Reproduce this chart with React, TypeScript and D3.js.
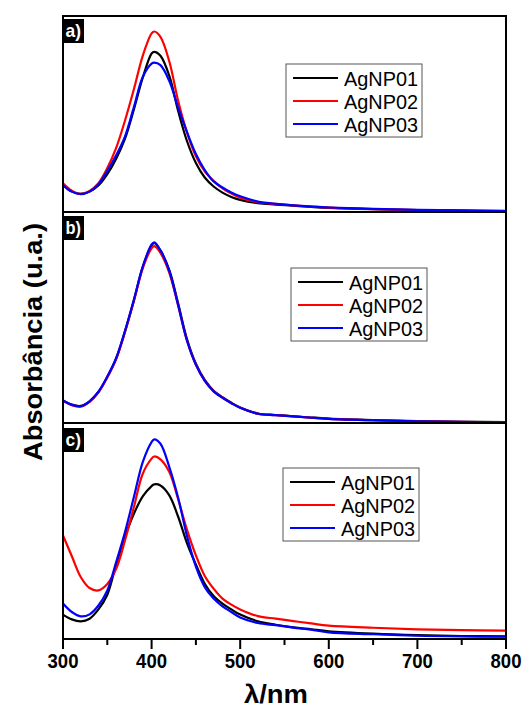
import React from 'react';
import * as d3 from 'd3';

const wavelengths = [300,310,320,330,340,350,360,370,380,390,400,403,410,420,430,440,450,460,470,480,490,500,520,540,560,580,600,650,700,750,800];
const seriesNames = ['AgNP01', 'AgNP02', 'AgNP03'];
const seriesColors = ['#000000', '#ff0000', '#0000ff'];
const panelLabels = ['a)', 'b)', 'c)'];
const xTicksMajor = [300, 400, 500, 600, 700, 800];
const xTicksMinor = [350, 450, 550, 650, 750];

const panelA_AgNP01 = [0.138,0.104,0.092,0.104,0.135,0.193,0.272,0.374,0.523,0.685,0.809,0.817,0.797,0.694,0.515,0.361,0.250,0.176,0.130,0.099,0.077,0.062,0.045,0.038,0.032,0.026,0.021,0.014,0.010,0.007,0.005];
const panelA_AgNP02 = [0.147,0.109,0.092,0.108,0.147,0.224,0.327,0.467,0.626,0.797,0.911,0.921,0.894,0.768,0.566,0.405,0.284,0.207,0.159,0.121,0.094,0.073,0.050,0.041,0.034,0.028,0.022,0.015,0.010,0.006,0.004];
const panelA_AgNP03 = [0.138,0.104,0.091,0.104,0.142,0.210,0.289,0.386,0.535,0.689,0.757,0.762,0.749,0.668,0.532,0.407,0.296,0.214,0.156,0.125,0.099,0.080,0.053,0.042,0.034,0.028,0.023,0.016,0.011,0.008,0.006];

const panelB_AgNP01 = [0.107,0.087,0.081,0.103,0.147,0.218,0.305,0.434,0.581,0.739,0.842,0.853,0.818,0.724,0.566,0.397,0.281,0.204,0.153,0.122,0.096,0.074,0.045,0.038,0.032,0.026,0.021,0.014,0.009,0.006,0.004];
const panelB_AgNP02 = [0.105,0.084,0.077,0.100,0.145,0.216,0.303,0.432,0.578,0.733,0.828,0.838,0.806,0.712,0.556,0.390,0.277,0.201,0.151,0.120,0.094,0.072,0.044,0.037,0.031,0.025,0.020,0.013,0.008,0.005,0.003];
const panelB_AgNP03 = [0.107,0.086,0.080,0.103,0.148,0.220,0.308,0.437,0.584,0.741,0.846,0.856,0.818,0.720,0.558,0.390,0.276,0.200,0.150,0.119,0.094,0.072,0.044,0.037,0.031,0.025,0.020,0.013,0.008,0.005,0.003];

const panelC_AgNP01 = [0.113,0.091,0.082,0.094,0.137,0.205,0.345,0.475,0.580,0.660,0.708,0.716,0.711,0.665,0.566,0.443,0.345,0.256,0.199,0.164,0.137,0.113,0.082,0.066,0.054,0.045,0.036,0.025,0.018,0.014,0.012];
const panelC_AgNP02 = [0.480,0.383,0.287,0.236,0.225,0.255,0.325,0.457,0.611,0.765,0.835,0.845,0.832,0.773,0.647,0.505,0.387,0.292,0.233,0.187,0.159,0.137,0.106,0.094,0.083,0.072,0.062,0.052,0.045,0.041,0.039];
const panelC_AgNP03 = [0.164,0.125,0.105,0.114,0.155,0.225,0.356,0.495,0.657,0.819,0.912,0.924,0.904,0.796,0.653,0.475,0.335,0.240,0.187,0.151,0.125,0.100,0.074,0.064,0.053,0.043,0.031,0.022,0.015,0.012,0.011];

const panelSeries = [
  [panelA_AgNP01, panelA_AgNP02, panelA_AgNP03],
  [panelB_AgNP01, panelB_AgNP02, panelB_AgNP03],
  [panelC_AgNP01, panelC_AgNP02, panelC_AgNP03],
];

const FONT = 'Liberation Sans, Arial, sans-serif';

export default function App() {
  const W = 524, H = 707;
  const left = 63, right = 506;
  const x = d3.scaleLinear().domain([300, 800]).range([left, right]);

  const layout = [
    { top: 16, bottom: 212, legend: { x: 286, y: 64 }, labelTop: 19 },
    { top: 212, bottom: 423, legend: { x: 291, y: 268 }, labelTop: 216 },
    { top: 423, bottom: 639, legend: { x: 283, y: 468 }, labelTop: 428 },
  ];

  const axisY = layout[2].bottom;

  return (
    <svg width={W} height={H} style={{ position: 'absolute', left: 0, top: 0, background: '#fff' }} fontFamily={FONT}>
      <rect x={0} y={0} width={W} height={H} fill="#fff" />
      <defs>
        {layout.map((p, i) => (
          <clipPath id={`clip${i}`} key={i}>
            <rect x={left} y={p.top} width={right - left} height={p.bottom - p.top} />
          </clipPath>
        ))}
      </defs>
      {layout.map((p, i) => {
        const y = d3.scaleLinear().domain([0, 1]).range([p.bottom, p.top]);
        const line = d3.line<[number, number]>()
          .x(d => x(d[0]))
          .y(d => y(d[1]))
          .curve(d3.curveCatmullRom.alpha(0.5));
        const lg = p.legend;
        return (
          <g key={i}>
            <g clipPath={`url(#clip${i})`}>
              {panelSeries[i].map((vals, s) => (
                <path
                  key={s}
                  d={line(wavelengths.map((w, k) => [w, vals[k]] as [number, number])) || ''}
                  fill="none"
                  stroke={seriesColors[s]}
                  strokeWidth={2.2}
                  strokeLinejoin="round"
                />
              ))}
            </g>
            <rect x={left} y={p.top} width={right - left} height={p.bottom - p.top} fill="none" stroke="#000" strokeWidth={2} />
            <rect x={left} y={p.labelTop} width={21} height={24} fill="#000" />
            <text x={left + 2.5} y={p.labelTop + 18} fill="#fff" fontSize={19} fontWeight="bold" textLength={15.5} lengthAdjust="spacingAndGlyphs">{panelLabels[i]}</text>
            <rect x={lg.x} y={lg.y} width={136} height={73} fill="#fff" stroke="#555" strokeWidth={1} />
            {seriesNames.map((n, s) => {
              const ry = lg.y + 14 + s * 23;
              return (
                <g key={n}>
                  <line x1={lg.x + 7} x2={lg.x + 52} y1={ry} y2={ry} stroke={seriesColors[s]} strokeWidth={2.2} />
                  <text x={lg.x + 58} y={ry + 7.5} fontSize={21} fill="#000" textLength={74} lengthAdjust="spacingAndGlyphs">{n}</text>
                </g>
              );
            })}
          </g>
        );
      })}
      {xTicksMajor.map(t => (
        <g key={t}>
          <line x1={x(t)} x2={x(t)} y1={axisY} y2={axisY + 10} stroke="#000" strokeWidth={2} />
          <text x={Math.min(x(t), 506)} y={668} textAnchor="middle" fontSize={21} fontWeight="bold" textLength={31} lengthAdjust="spacingAndGlyphs">{t}</text>
        </g>
      ))}
      {xTicksMinor.map(t => (
        <line key={t} x1={x(t)} x2={x(t)} y1={axisY} y2={axisY + 6} stroke="#000" strokeWidth={2} />
      ))}
      <text x={276} y={703} textAnchor="middle" fontSize={25} fontWeight="bold" textLength={64} lengthAdjust="spacingAndGlyphs">λ/nm</text>
      <text transform="translate(42,342) rotate(-90)" textAnchor="middle" fontSize={25} fontWeight="bold" textLength={238} lengthAdjust="spacingAndGlyphs">Absorbância (u.a.)</text>
    </svg>
  );
}
